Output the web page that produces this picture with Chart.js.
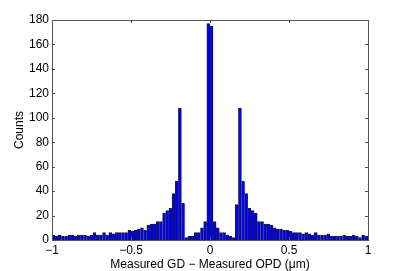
<!DOCTYPE html>
<html>
<head>
<meta charset="utf-8">
<script src="https://cdn.jsdelivr.net/npm/chart.js@4"></script>
<style>
  html, body { margin: 0; padding: 0; background: #fff; }
  #wrap { width: 407px; height: 271px; }
</style>
</head>
<body>
<div id="wrap"><canvas id="histChart" width="407" height="271"></canvas></div>
<script>
// Histograma: 100 clases de 0.02 entre -1 y 1
const binStart = -1;
const binWidth = 0.02;
const binCounts = [
  4, 3, 4, 3, 3, 4, 4, 3, 4, 4,
  4, 3, 4, 6, 4, 4, 6, 4, 6, 5,
  6, 6, 6, 6, 8, 7, 8, 9, 10, 8,
  12, 13, 13, 15, 15, 22, 24, 26, 38, 48,
  108, 30, 2, 3, 3, 6, 6, 10, 15, 177,
  175, 15, 10, 6, 6, 4, 3, 2, 29, 108,
  48, 38, 26, 24, 22, 15, 15, 13, 13, 12,
  10, 9, 9, 8, 8, 7, 6, 6, 6, 5,
  6, 5, 4, 6, 4, 4, 4, 5, 3, 3,
  3, 3, 4, 3, 3, 4, 3, 2, 4, 3
];
const xTicks = [-1, -0.5, 0, 0.5, 1];
const yTicks = [0, 20, 40, 60, 80, 100, 120, 140, 160, 180];

const points = binCounts.map((c, i) => ({ x: binStart + binWidth * (i + 0.5), y: c }));

function fmt(v) {
  return v < 0 ? "\u2212" + Math.abs(v) : String(v);
}

// Caja y marcas hacia dentro, estilo MATLAB
const boxPlugin = {
  id: "boxPlugin",
  afterDraw(chart) {
    const { ctx, chartArea: a, scales } = chart;
    ctx.save();
    ctx.strokeStyle = "#555";
    ctx.lineWidth = 1;
    ctx.strokeRect(Math.round(a.left) + 0.5, Math.round(a.top) + 0.5,
      Math.round(a.right - a.left), Math.round(a.bottom - a.top));
    ctx.beginPath();
    xTicks.forEach(v => {
      const px = Math.round(scales.x.getPixelForValue(v)) + 0.5;
      ctx.moveTo(px, a.bottom); ctx.lineTo(px, a.bottom - 3);
      ctx.moveTo(px, a.top); ctx.lineTo(px, a.top + 3);
    });
    yTicks.forEach(v => {
      const py = Math.round(scales.y.getPixelForValue(v)) + 0.5;
      ctx.moveTo(a.left, py); ctx.lineTo(a.left + 3, py);
      ctx.moveTo(a.right, py); ctx.lineTo(a.right - 3, py);
    });
    ctx.stroke();
    ctx.restore();
  }
};

const font = { family: "'Liberation Sans', Arial, sans-serif", size: 12 };

new Chart(document.getElementById("histChart").getContext("2d"), {
  type: "bar",
  data: {
    datasets: [{
      data: points,
      backgroundColor: "#0000f0",
      borderColor: "#202020",
      borderWidth: { left: 1, top: 1, right: 0, bottom: 0 },
      borderSkipped: false,
      barPercentage: 1,
      categoryPercentage: 1
    }]
  },
  options: {
    responsive: false,
    animation: false,
    layout: { padding: { top: 20, right: 39, left: 0, bottom: 0 } },
    plugins: { legend: { display: false }, tooltip: { enabled: false } },
    scales: {
      x: {
        type: "linear",
        min: -1,
        max: 1,
        offset: false,
        afterBuildTicks: s => { s.ticks = xTicks.map(v => ({ value: v })); },
        afterFit: s => { s.height = 31; },
        grid: { display: false, drawTicks: false, tickLength: 0 },
        border: { display: false },
        ticks: { color: "#000", font, padding: 3, maxRotation: 0, callback: v => fmt(v) },
        title: { display: true, text: "Measured GD \u2212 Measured OPD (\u03bcm)", color: "#000",
          font: { ...font, lineHeight: 1 }, padding: 0 }
      },
      y: {
        min: 0,
        max: 180,
        afterBuildTicks: s => { s.ticks = yTicks.map(v => ({ value: v })); },
        afterFit: s => { s.width = 52; },
        grid: { display: false, drawTicks: false, tickLength: 0 },
        border: { display: false },
        ticks: { color: "#000", font, padding: 3 },
        title: { display: true, text: "Counts", color: "#000",
          font: { ...font, lineHeight: 1 }, padding: { top: 14, bottom: 0 } }
      }
    }
  },
  plugins: [boxPlugin]
});
</script>
</body>
</html>
